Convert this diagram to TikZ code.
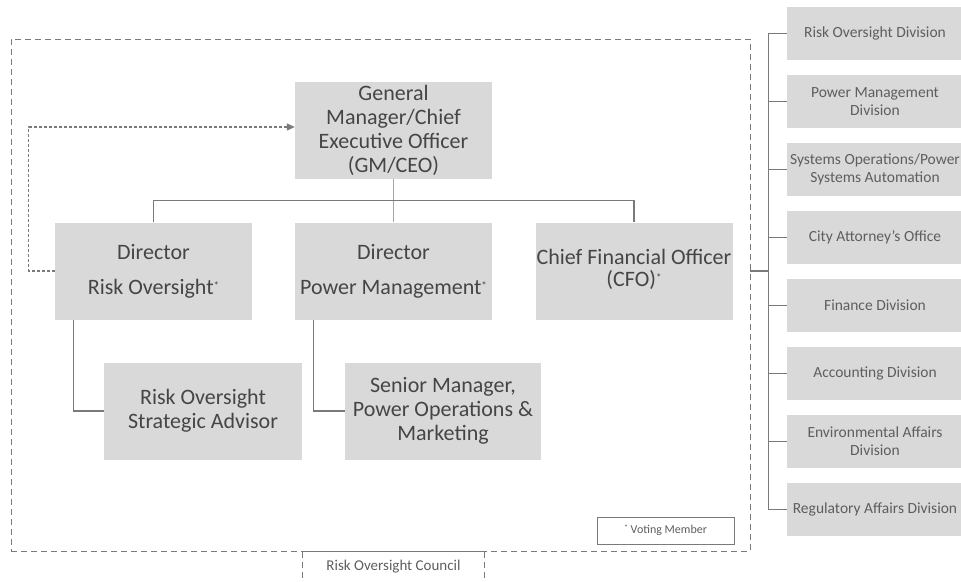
\documentclass[tikz,border=0pt]{standalone}
\usepackage{fontspec}
\setmainfont{Carlito}
\usetikzlibrary{arrows.meta}
\definecolor{boxfill}{HTML}{D9D9D9}
\definecolor{txt}{HTML}{454545}
\definecolor{divtxt}{HTML}{5E5E5E}
\definecolor{linegray}{HTML}{7A7A7A}
\definecolor{lineblue}{HTML}{8FA9CC}
\newcommand{\votestar}{\raisebox{5pt}{\fontsize{11}{11}\selectfont *}}
\begin{document}
\begin{tikzpicture}[x=1pt,y=-1pt,
  box/.style={fill=boxfill, draw=none, text=txt, align=center, inner sep=0pt,
    font=\fontsize{22}{24}\selectfont, minimum width=197pt, minimum height=97pt},
  divbox/.style={fill=boxfill, draw=none, text=divtxt, align=center, inner sep=0pt,
    font=\fontsize{15.5}{18}\selectfont, minimum width=176pt, minimum height=53pt},
  conn/.style={draw=linegray, line width=1.2pt},
  connblue/.style={draw=lineblue, line width=1.2pt},
  outerbox/.style={draw=linegray, dash pattern=on 6pt off 4pt, line width=0.9pt,
    minimum width=739pt, minimum height=512pt, inner sep=0pt},
  dotarrow/.style={draw=linegray, dash pattern=on 3pt off 2pt, line width=1.2pt,
    -{Triangle[length=8pt,width=7pt]}},
  smalltxt/.style={text=divtxt, inner sep=0pt}
]
\useasboundingbox (0,0) rectangle (961,581);

% outer dashed frame
\node[outerbox] (rog) at (380.5,295) {};

% main boxes
\node[box] (gm) at (393.5,130.5) {General\\Manager/Chief\\Executive Officer\\(GM/CEO)};
\node[box] (dr) at (153.5,271) {Director\\[11pt]Risk Oversight\votestar};
\node[box] (dp) at (393.5,271) {Director\\[11pt]Power Management\votestar};
\node[box, font=\fontsize{22}{22}\selectfont] (cfo) at (634,271)
  {\raisebox{3.5pt}{\begin{tabular}{@{}c@{}}Chief Financial Officer\\(CFO)\votestar\end{tabular}}};
\node[box, minimum width=198pt] (rosa) at (203,411) {Risk Oversight\\Strategic Advisor};
\node[box, minimum width=196pt] (sm) at (443,411) {Senior Manager,\\Power Operations \&\\Marketing};

% connectors
\draw[connblue] (gm.south) -- (dp.north);
\draw[conn] (dr.north) -- ++(0,-22) -| (cfo.north);
\draw[conn] ([xshift=19pt]dr.south west) |- (rosa.west);
\draw[conn] ([xshift=19pt]dp.south west) |- (sm.west);
\draw[dotarrow] (dr.west) -- ++(-26,0) |- ([yshift=3.5pt]gm.west);

% legend
\node[draw=linegray, line width=0.8pt, fill=white, minimum width=137pt, minimum height=27pt,
  inner sep=0pt, text=divtxt, font=\fontsize{12}{12}\selectfont] (vm) at (665.5,530.5)
  {\raisebox{3pt}{\fontsize{8}{8}\selectfont *} Voting Member};

% council tab
\node[smalltxt, minimum width=181pt, minimum height=30pt, font=\fontsize{15}{15}\selectfont] (council) at (393.5,567) {Risk Oversight Council};
\draw[draw=linegray, line width=0.9pt, dash pattern=on 6pt off 4pt] (council.north west) -- (council.south west);
\draw[draw=linegray, line width=0.9pt, dash pattern=on 6pt off 4pt] (council.north east) -- (council.south east);
\draw[draw=linegray, line width=0.9pt] (council.north west) -- (council.north east);

% divisions
\node[divbox] (d1) at (875,33.5) {Risk Oversight Division};
\node[divbox] (d2) at (875,101.5) {Power Management\\Division};
\node[divbox] (d3) at (875,169.5) {Systems Operations/Power\\Systems Automation};
\node[divbox] (d4) at (875,237.5) {City Attorney's Office};
\node[divbox] (d5) at (875,305.5) {Finance Division};
\node[divbox] (d6) at (875,373.5) {Accounting Division};
\node[divbox] (d7) at (875,441.5) {Environmental Affairs\\Division};
\node[divbox] (d8) at (875,509.5) {Regulatory Affairs Division};

\draw[conn] (d1.west) -- ++(-18,0) coordinate (bt) -- (bt |- d8.west) -- (d8.west);
\foreach \i in {2,...,7} {\draw[conn] (d\i.west) -- (bt |- d\i.west);}
\draw[conn] (rog.east |- cfo.east) -- (bt |- cfo.east);
\end{tikzpicture}
\end{document}
